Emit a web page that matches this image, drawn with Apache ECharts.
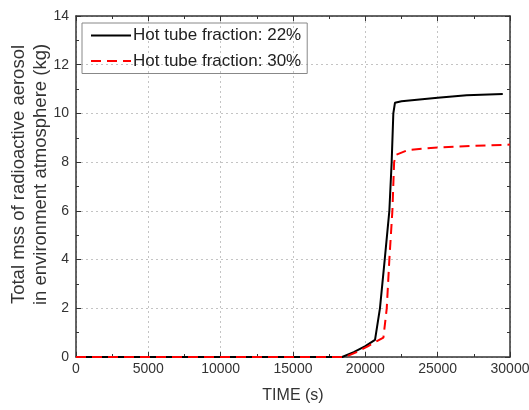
<!DOCTYPE html>
<html>
<head>
<meta charset="utf-8">
<script src="https://cdn.jsdelivr.net/npm/echarts@6/dist/echarts.min.js"></script>
<style>html,body{margin:0;padding:0;background:#fff;}#c{width:529px;height:410px;}</style>
</head>
<body>
<div id="c"></div>
<script>
const seriesNames = ['Hot tube fraction: 22%', 'Hot tube fraction: 30%'];
const timeA = [0, 18400, 19200, 20000, 20670, 21010, 21340, 21660, 21820, 21935, 22050, 22500, 25000, 27000, 29500];
const massA = [0, 0, 0.2, 0.45, 0.7, 2, 4, 6, 8, 10, 10.44, 10.5, 10.64, 10.75, 10.8];
const timeB = [0, 18600, 19400, 20200, 20800, 21250, 21480, 21660, 21870, 21990, 22120, 22970, 25000, 27500, 30000];
const massB = [0, 0, 0.2, 0.45, 0.65, 0.8, 2, 4, 6, 8, 8.3, 8.5, 8.6, 8.67, 8.72];
const xTicks = [0, 5000, 10000, 15000, 20000, 25000, 30000];
const yTicks = [0, 2, 4, 6, 8, 10, 12, 14];

const zip = (xs, ys) => xs.map((x, i) => [x, ys[i]]);
const font = 'Arial, "Liberation Sans", sans-serif';
const textColor = '#333';
const frame = { show: true, onZero: false, lineStyle: { color: '#333', width: 1.5 } };
const plain = v => String(v);

const chart = echarts.init(document.getElementById('c'), null, { renderer: 'canvas' });
chart.setOption({
  animation: false,
  backgroundColor: '#fff',
  grid: { left: 76, right: 19, top: 16, bottom: 53, containLabel: false, outerBoundsMode: 'none' },
  xAxis: [{
    type: 'value', min: xTicks[0], max: xTicks[xTicks.length - 1], interval: 5000,
    name: 'TIME (s)', nameLocation: 'middle', nameGap: 31, nameMoveOverlap: false,
    nameTextStyle: { fontSize: 16, color: textColor, fontFamily: font },
    axisLine: frame,
    axisTick: { inside: true, length: 5, lineStyle: { color: '#333' } },
    minorTick: { show: true, splitNumber: 2, length: 3, lineStyle: { color: '#333' } },
    axisLabel: { fontSize: 14, color: textColor, fontFamily: font, margin: 5, formatter: plain },
    splitLine: { show: true, lineStyle: { color: '#c4c4c4', type: [2, 3], width: 1 } }
  }, {
    type: 'value', position: 'top', min: xTicks[0], max: xTicks[xTicks.length - 1], interval: 5000,
    axisLine: frame,
    axisTick: { inside: true, length: 5, lineStyle: { color: '#333' } },
    minorTick: { show: true, splitNumber: 2, length: 3, lineStyle: { color: '#333' } },
    axisLabel: { show: false }, splitLine: { show: false }
  }],
  yAxis: [{
    type: 'value', min: yTicks[0], max: yTicks[yTicks.length - 1], interval: 2,
    name: 'Total mss of radioactive aerosol\nin environment atmosphere (kg)',
    nameLocation: 'middle', nameGap: 24, nameMoveOverlap: false,
    nameTextStyle: { fontSize: 18.5, lineHeight: 22, color: textColor, fontFamily: font, padding: [0, 0, 0, 24] },
    axisLine: frame,
    axisTick: { inside: true, length: 5, lineStyle: { color: '#333' } },
    minorTick: { show: true, splitNumber: 2, length: 3, lineStyle: { color: '#333' } },
    axisLabel: { fontSize: 14, color: textColor, fontFamily: font, margin: 7, formatter: plain },
    splitLine: { show: true, lineStyle: { color: '#c4c4c4', type: [2, 3], width: 1 } }
  }, {
    type: 'value', position: 'right', min: yTicks[0], max: yTicks[yTicks.length - 1], interval: 2,
    axisLine: frame,
    axisTick: { inside: true, length: 5, lineStyle: { color: '#333' } },
    minorTick: { show: true, splitNumber: 2, length: 3, lineStyle: { color: '#333' } },
    axisLabel: { show: false }, splitLine: { show: false }
  }],
  legend: {
    left: 82, top: 23, orient: 'vertical',
    itemWidth: 40, itemHeight: 14, itemGap: 8.5,
    padding: [4, 6, 4, 8],
    borderColor: '#888', borderWidth: 1,
    itemStyle: { opacity: 0 },
    textStyle: { fontSize: 17, color: '#222', fontFamily: font, padding: [0, 0, 0, -3] },
    data: seriesNames
  },
  series: [{
    name: seriesNames[0], type: 'line', data: zip(timeA, massA), showSymbol: false, symbol: 'none',
    lineStyle: { color: '#000', width: 2 }, itemStyle: { color: '#000' }, z: 3
  }, {
    name: seriesNames[1], type: 'line', data: zip(timeB, massB), showSymbol: false, symbol: 'none',
    lineStyle: { color: '#ff0000', width: 2, type: [10, 6] }, itemStyle: { color: '#ff0000' }, z: 4
  }]
});
</script>
</body>
</html>
